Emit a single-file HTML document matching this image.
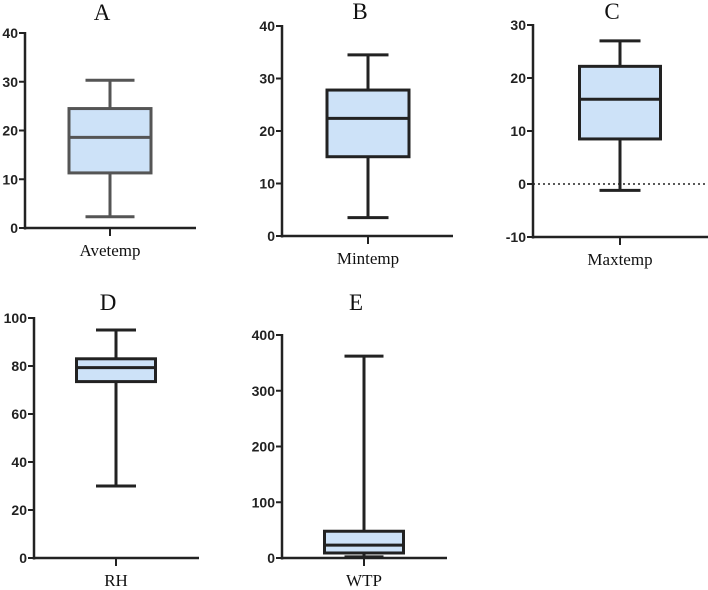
<!DOCTYPE html>
<html><head><meta charset="utf-8"><style>
html,body{margin:0;padding:0;background:#fff;width:708px;height:590px;overflow:hidden}
svg text{font-family:"Liberation Sans",sans-serif}
.t{font-family:"Liberation Serif",serif}
</style></head><body>
<svg id="c" width="708" height="590" viewBox="0 0 708 590"></svg>
<script>
const panelTitles = ['A','B','C','D','E'];
const categories = ['Avetemp','Mintemp','Maxtemp','RH','WTP'];
const minVals = [2.3, 3.5, -1.2, 30, 2];
const q1Vals = [11.3, 15.1, 8.5, 73.5, 9];
const medVals = [18.6, 22.4, 16, 79.3, 23];
const q3Vals = [24.5, 27.8, 22.2, 83, 48];
const maxVals = [30.3, 34.5, 27, 95, 362];
const tickLabels = [[0,10,20,30,40],[0,10,20,30,40],[-10,0,10,20,30],[0,20,40,60,80,100],[0,100,200,300,400]];

const layout = [
 {ax:25, yTop:33, yBot:228, xEnd:196, cx:110, bw:82, cw:49, col:'#555', ty:20},
 {ax:282, yTop:26, yBot:236, xEnd:453, cx:368, bw:82, cw:41, col:'#222', ty:19},
 {ax:533, yTop:25, yBot:237, xEnd:708, cx:620, bw:81, cw:41, col:'#222', ty:19, zero:true},
 {ax:34, yTop:318, yBot:558, xEnd:199, cx:116, bw:79, cw:40, col:'#222', ty:310},
 {ax:282, yTop:335, yBot:558, xEnd:447, cx:364, bw:79, cw:39, col:'#222', ty:310}
];
const svg = document.getElementById('c');
const NS = 'http://www.w3.org/2000/svg';
function mk(tag, attrs, parent){const e=document.createElementNS(NS,tag);for(const k in attrs)e.setAttribute(k,attrs[k]);parent.appendChild(e);return e;}
layout.forEach((L,i)=>{
  const ticks = tickLabels[i];
  const lo = ticks[0], hi = ticks[ticks.length-1];
  const y = v => L.yBot - (v-lo)/(hi-lo)*(L.yBot-L.yTop);
  const g = mk('g',{},svg);
  
  
  const tt = mk('text',{x:L.cx-8,y:L.ty,'text-anchor':'middle','font-size':23,class:'t',fill:'#111'},g);
  tt.textContent = panelTitles[i];
  
  
  const yax = mk('line',{x1:L.ax,y1:L.yTop-1,x2:L.ax,y2:L.yBot+1.5,stroke:'#222','stroke-width':2.5},g);
  
  
  const xax = mk('line',{x1:L.ax-1,y1:L.yBot,x2:L.xEnd,y2:L.yBot,stroke:'#222','stroke-width':2.5},g);
  
  
  mk('line',{x1:L.cx,y1:L.yBot,x2:L.cx,y2:L.yBot+8,stroke:'#222','stroke-width':2},g);
  ticks.forEach(t=>{
    mk('line',{x1:L.ax-6,y1:y(t),x2:L.ax,y2:y(t),stroke:'#222','stroke-width':2},g);
    const tl = mk('text',{x:L.ax-7,y:y(t)+5,'text-anchor':'end','font-size':14,'font-weight':'bold',fill:'#222'},g);
    tl.textContent = t;
    
    
  });
  if(L.zero){
    const zl = mk('line',{x1:L.ax,y1:y(0),x2:L.xEnd,y2:y(0),stroke:'#222','stroke-width':1.5,'stroke-dasharray':'2,3'},g);
    
    
  }
  const c = L.col;
  const wh = mk('line',{x1:L.cx,y1:y(maxVals[i]),x2:L.cx,y2:y(minVals[i]),stroke:c,'stroke-width':3},g);
  
  
  [maxVals[i],minVals[i]].forEach(v=>{
    const cap = mk('line',{x1:L.cx-L.cw/2,y1:y(v),x2:L.cx+L.cw/2,y2:y(v),stroke:c,'stroke-width':3},g);
    
    
  });
  const box = mk('rect',{x:L.cx-L.bw/2,y:y(q3Vals[i]),width:L.bw,height:y(q1Vals[i])-y(q3Vals[i]),fill:'#cde2f8',stroke:c,'stroke-width':3},g);
  
  
  const md = mk('line',{x1:L.cx-L.bw/2,y1:y(medVals[i]),x2:L.cx+L.bw/2,y2:y(medVals[i]),stroke:c,'stroke-width':3},g);
  
  
  const xl = mk('text',{x:L.cx,y:L.yBot+28,'text-anchor':'middle','font-size':17,class:'t',fill:'#111'},g);
  xl.textContent = categories[i];
  
  
});
</script>
</body></html>
